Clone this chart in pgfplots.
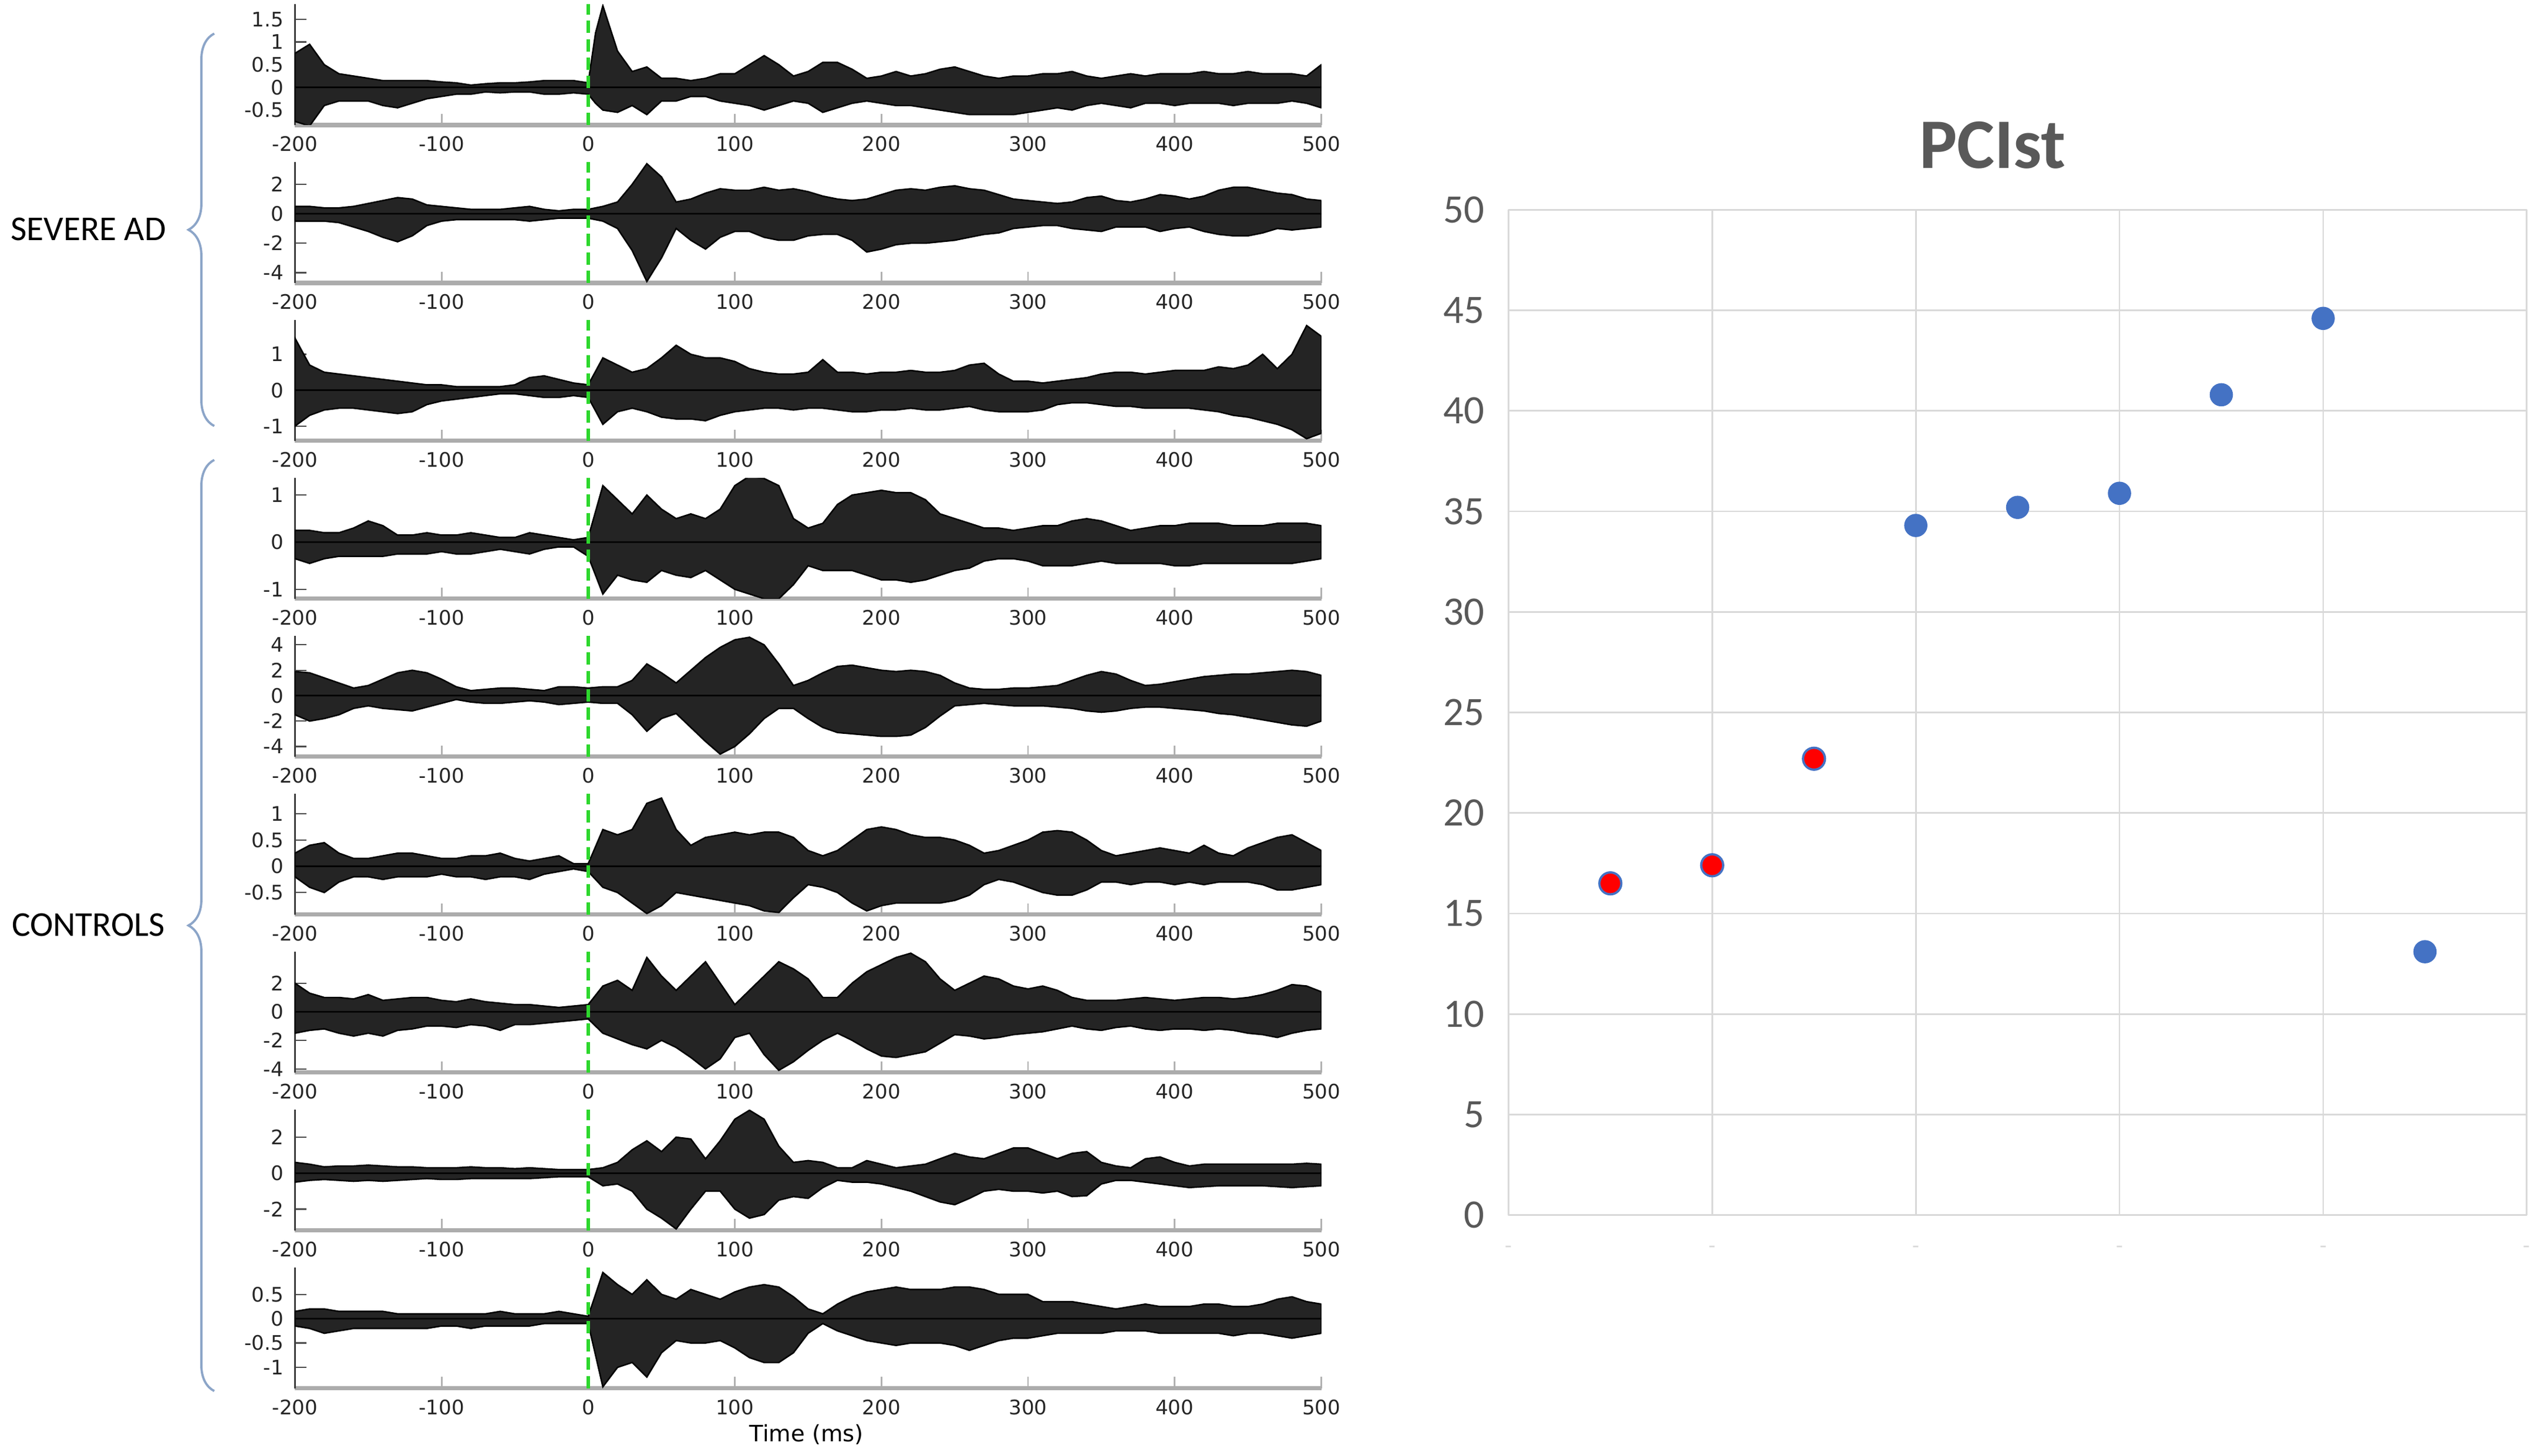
\documentclass[border=0pt]{standalone}
\usepackage{fontspec}
\setmainfont{Carlito}
\newfontfamily\djv{DejaVu Sans}
\usepackage{pgfplots}
\pgfplotsset{compat=1.18}
\usepackage{pgfplotstable}
\usetikzlibrary{decorations.pathreplacing}

\definecolor{eegreen}{RGB}{45,215,45}
\definecolor{msblue}{RGB}{68,114,196}
\definecolor{txtgray}{RGB}{89,89,89}
\definecolor{gridgray}{RGB}{217,217,217}
\definecolor{bracecol}{RGB}{140,165,200}

\pgfplotstableread[row sep=\\]{t u l\\
-200 0.75 -0.75\\ -190 0.95 -0.85\\ -180 0.5 -0.4\\ -170 0.3 -0.3\\ -160 0.25 -0.3\\ -150 0.2 -0.3\\
-140 0.15 -0.4\\ -130 0.15 -0.45\\ -120 0.15 -0.35\\ -110 0.15 -0.25\\ -100 0.12 -0.2\\ -90 0.1 -0.15\\
-80 0.05 -0.15\\ -70 0.08 -0.1\\ -60 0.1 -0.12\\ -50 0.1 -0.1\\ -40 0.12 -0.1\\ -30 0.15 -0.15\\
-20 0.15 -0.15\\ -10 0.15 -0.12\\ 0 0.1 -0.15\\ 5 1.2 -0.35\\ 10 1.8 -0.5\\ 20 0.8 -0.55\\
30 0.35 -0.4\\ 40 0.45 -0.6\\ 50 0.2 -0.3\\ 60 0.2 -0.3\\ 70 0.15 -0.2\\ 80 0.2 -0.2\\
90 0.3 -0.3\\ 100 0.3 -0.35\\ 110 0.5 -0.4\\ 120 0.7 -0.5\\ 130 0.5 -0.4\\ 140 0.25 -0.3\\
150 0.35 -0.35\\ 160 0.55 -0.55\\ 170 0.55 -0.45\\ 180 0.4 -0.35\\ 190 0.2 -0.3\\ 200 0.25 -0.35\\
210 0.35 -0.4\\ 220 0.25 -0.4\\ 230 0.3 -0.45\\ 240 0.4 -0.5\\ 250 0.45 -0.55\\ 260 0.35 -0.6\\
270 0.25 -0.6\\ 280 0.2 -0.6\\ 290 0.25 -0.6\\ 300 0.25 -0.55\\ 310 0.3 -0.5\\ 320 0.3 -0.45\\
330 0.35 -0.5\\ 340 0.25 -0.4\\ 350 0.2 -0.35\\ 360 0.25 -0.4\\ 370 0.3 -0.45\\ 380 0.25 -0.35\\
390 0.3 -0.35\\ 400 0.3 -0.4\\ 410 0.3 -0.35\\ 420 0.35 -0.35\\ 430 0.3 -0.35\\ 440 0.3 -0.4\\
450 0.35 -0.35\\ 460 0.3 -0.35\\ 470 0.3 -0.35\\ 480 0.3 -0.3\\ 490 0.25 -0.35\\ 500 0.5 -0.45\\
}\tA

\pgfplotstableread[row sep=\\]{t u l\\
-200 0.5 -0.5\\ -190 0.5 -0.5\\ -180 0.4 -0.5\\ -170 0.4 -0.6\\ -160 0.5 -0.9\\ -150 0.7 -1.2\\
-140 0.9 -1.6\\ -130 1.1 -1.9\\ -120 1.0 -1.5\\ -110 0.6 -0.8\\ -100 0.5 -0.5\\ -90 0.4 -0.4\\
-80 0.3 -0.4\\ -70 0.3 -0.4\\ -60 0.3 -0.4\\ -50 0.4 -0.4\\ -40 0.5 -0.5\\ -30 0.3 -0.4\\
-20 0.2 -0.3\\ -10 0.3 -0.3\\ 0 0.3 -0.3\\ 10 0.5 -0.5\\ 20 0.8 -1.0\\ 30 2.0 -2.5\\
40 3.4 -4.6\\ 50 2.5 -3.0\\ 60 0.8 -1.0\\ 70 1.0 -1.8\\ 80 1.4 -2.4\\ 90 1.7 -1.6\\
100 1.6 -1.2\\ 110 1.6 -1.2\\ 120 1.8 -1.6\\ 130 1.6 -1.8\\ 140 1.7 -1.8\\ 150 1.5 -1.5\\
160 1.2 -1.4\\ 170 1.0 -1.4\\ 180 0.9 -1.8\\ 190 1.0 -2.6\\ 200 1.3 -2.4\\ 210 1.6 -2.1\\
220 1.7 -2.0\\ 230 1.6 -2.0\\ 240 1.8 -1.9\\ 250 1.9 -1.8\\ 260 1.7 -1.6\\ 270 1.6 -1.4\\
280 1.3 -1.3\\ 290 1.0 -1.0\\ 300 0.9 -0.9\\ 310 0.8 -0.8\\ 320 0.7 -0.8\\ 330 0.8 -1.0\\
340 1.1 -1.1\\ 350 1.2 -1.2\\ 360 0.9 -0.9\\ 370 0.8 -0.9\\ 380 1.0 -0.9\\ 390 1.3 -1.2\\
400 1.2 -1.0\\ 410 1.0 -0.9\\ 420 1.2 -1.2\\ 430 1.6 -1.4\\ 440 1.8 -1.5\\ 450 1.8 -1.5\\
460 1.6 -1.3\\ 470 1.4 -1.0\\ 480 1.3 -1.1\\ 490 1.0 -1.0\\ 500 0.9 -0.9\\
}\tB

\pgfplotstableread[row sep=\\]{t u l\\
-200 1.45 -1.0\\ -190 0.7 -0.7\\ -180 0.5 -0.55\\ -170 0.45 -0.5\\ -160 0.4 -0.5\\ -150 0.35 -0.55\\
-140 0.3 -0.6\\ -130 0.25 -0.65\\ -120 0.2 -0.6\\ -110 0.15 -0.4\\ -100 0.15 -0.3\\ -90 0.1 -0.25\\
-80 0.1 -0.2\\ -70 0.1 -0.15\\ -60 0.1 -0.1\\ -50 0.15 -0.1\\ -40 0.35 -0.15\\ -30 0.4 -0.2\\
-20 0.3 -0.2\\ -10 0.2 -0.15\\ 0 0.15 -0.2\\ 10 0.9 -0.95\\ 20 0.7 -0.6\\ 30 0.5 -0.5\\
40 0.6 -0.6\\ 50 0.9 -0.75\\ 60 1.25 -0.8\\ 70 1.0 -0.8\\ 80 0.9 -0.85\\ 90 0.9 -0.7\\
100 0.8 -0.6\\ 110 0.6 -0.55\\ 120 0.5 -0.5\\ 130 0.45 -0.5\\ 140 0.45 -0.55\\ 150 0.5 -0.5\\
160 0.85 -0.5\\ 170 0.5 -0.55\\ 180 0.5 -0.6\\ 190 0.45 -0.6\\ 200 0.5 -0.55\\ 210 0.5 -0.55\\
220 0.55 -0.5\\ 230 0.5 -0.55\\ 240 0.5 -0.55\\ 250 0.55 -0.5\\ 260 0.7 -0.45\\ 270 0.75 -0.55\\
280 0.45 -0.6\\ 290 0.25 -0.6\\ 300 0.25 -0.6\\ 310 0.2 -0.55\\ 320 0.25 -0.4\\ 330 0.3 -0.35\\
340 0.35 -0.35\\ 350 0.45 -0.4\\ 360 0.5 -0.45\\ 370 0.5 -0.45\\ 380 0.45 -0.5\\ 390 0.5 -0.5\\
400 0.55 -0.5\\ 410 0.55 -0.5\\ 420 0.55 -0.55\\ 430 0.65 -0.6\\ 440 0.6 -0.7\\ 450 0.7 -0.75\\
460 1.0 -0.85\\ 470 0.6 -0.95\\ 480 1.0 -1.1\\ 490 1.8 -1.35\\ 500 1.5 -1.2\\
}\tC

\pgfplotstableread[row sep=\\]{t u l\\
-200 0.25 -0.35\\ -190 0.25 -0.45\\ -180 0.2 -0.35\\ -170 0.2 -0.3\\ -160 0.3 -0.3\\ -150 0.45 -0.3\\
-140 0.35 -0.3\\ -130 0.15 -0.25\\ -120 0.15 -0.25\\ -110 0.2 -0.25\\ -100 0.15 -0.2\\ -90 0.15 -0.25\\
-80 0.2 -0.25\\ -70 0.15 -0.2\\ -60 0.1 -0.15\\ -50 0.1 -0.2\\ -40 0.2 -0.25\\ -30 0.15 -0.15\\
-20 0.1 -0.1\\ -10 0.05 -0.1\\ 0 0.1 -0.3\\ 10 1.2 -1.1\\ 20 0.9 -0.7\\ 30 0.6 -0.8\\
40 1.0 -0.85\\ 50 0.7 -0.6\\ 60 0.5 -0.7\\ 70 0.6 -0.75\\ 80 0.5 -0.6\\ 90 0.7 -0.8\\
100 1.2 -1.0\\ 110 1.4 -1.1\\ 120 1.35 -1.2\\ 130 1.2 -1.2\\ 140 0.5 -0.9\\ 150 0.3 -0.5\\
160 0.4 -0.6\\ 170 0.8 -0.6\\ 180 1.0 -0.6\\ 190 1.05 -0.7\\ 200 1.1 -0.8\\ 210 1.05 -0.8\\
220 1.05 -0.85\\ 230 0.9 -0.8\\ 240 0.6 -0.7\\ 250 0.5 -0.6\\ 260 0.4 -0.55\\ 270 0.3 -0.4\\
280 0.3 -0.35\\ 290 0.25 -0.35\\ 300 0.3 -0.4\\ 310 0.35 -0.5\\ 320 0.35 -0.5\\ 330 0.45 -0.5\\
340 0.5 -0.45\\ 350 0.45 -0.4\\ 360 0.35 -0.45\\ 370 0.25 -0.45\\ 380 0.3 -0.45\\ 390 0.35 -0.45\\
400 0.35 -0.5\\ 410 0.4 -0.5\\ 420 0.4 -0.45\\ 430 0.4 -0.45\\ 440 0.35 -0.45\\ 450 0.35 -0.45\\
460 0.35 -0.45\\ 470 0.4 -0.45\\ 480 0.4 -0.45\\ 490 0.4 -0.4\\ 500 0.35 -0.35\\
}\tD

\pgfplotstableread[row sep=\\]{t u l\\
-200 1.9 -1.5\\ -190 1.8 -2.0\\ -180 1.4 -1.8\\ -170 1.0 -1.5\\ -160 0.6 -1.0\\ -150 0.8 -0.8\\
-140 1.3 -1.0\\ -130 1.8 -1.1\\ -120 2.0 -1.2\\ -110 1.8 -0.9\\ -100 1.3 -0.6\\ -90 0.7 -0.3\\
-80 0.4 -0.5\\ -70 0.5 -0.6\\ -60 0.6 -0.6\\ -50 0.6 -0.5\\ -40 0.5 -0.4\\ -30 0.4 -0.5\\
-20 0.7 -0.7\\ -10 0.7 -0.6\\ 0 0.6 -0.5\\ 10 0.7 -0.6\\ 20 0.7 -0.6\\ 30 1.2 -1.5\\
40 2.5 -2.8\\ 50 1.8 -1.8\\ 60 1.0 -1.4\\ 70 2.0 -2.5\\ 80 3.0 -3.6\\ 90 3.8 -4.6\\
100 4.4 -4.0\\ 110 4.6 -3.0\\ 120 4.0 -1.8\\ 130 2.5 -1.0\\ 140 0.8 -1.0\\ 150 1.2 -1.8\\
160 1.8 -2.5\\ 170 2.3 -2.9\\ 180 2.4 -3.0\\ 190 2.2 -3.1\\ 200 2.0 -3.2\\ 210 1.9 -3.2\\
220 2.0 -3.1\\ 230 1.9 -2.5\\ 240 1.6 -1.6\\ 250 1.0 -0.8\\ 260 0.6 -0.7\\ 270 0.5 -0.6\\
280 0.5 -0.7\\ 290 0.6 -0.8\\ 300 0.6 -0.8\\ 310 0.7 -0.8\\ 320 0.8 -0.9\\ 330 1.2 -1.0\\
340 1.6 -1.2\\ 350 1.9 -1.3\\ 360 1.7 -1.2\\ 370 1.2 -1.0\\ 380 0.8 -0.9\\ 390 0.9 -0.9\\
400 1.1 -1.0\\ 410 1.3 -1.1\\ 420 1.5 -1.2\\ 430 1.6 -1.4\\ 440 1.7 -1.5\\ 450 1.7 -1.7\\
460 1.8 -1.9\\ 470 1.9 -2.1\\ 480 2.0 -2.3\\ 490 1.9 -2.4\\ 500 1.6 -2.0\\
}\tE

\pgfplotstableread[row sep=\\]{t u l\\
-200 0.25 -0.2\\ -190 0.4 -0.4\\ -180 0.45 -0.5\\ -170 0.25 -0.3\\ -160 0.15 -0.2\\ -150 0.15 -0.2\\
-140 0.2 -0.25\\ -130 0.25 -0.2\\ -120 0.25 -0.2\\ -110 0.2 -0.2\\ -100 0.15 -0.15\\ -90 0.15 -0.2\\
-80 0.2 -0.2\\ -70 0.2 -0.25\\ -60 0.25 -0.2\\ -50 0.15 -0.2\\ -40 0.1 -0.25\\ -30 0.15 -0.15\\
-20 0.2 -0.1\\ -10 0.05 -0.05\\ 0 0.05 -0.1\\ 10 0.7 -0.4\\ 20 0.6 -0.5\\ 30 0.7 -0.7\\
40 1.2 -0.9\\ 50 1.3 -0.75\\ 60 0.7 -0.5\\ 70 0.4 -0.55\\ 80 0.55 -0.6\\ 90 0.6 -0.65\\
100 0.65 -0.7\\ 110 0.6 -0.75\\ 120 0.65 -0.85\\ 130 0.65 -0.88\\ 140 0.55 -0.6\\ 150 0.3 -0.35\\
160 0.2 -0.4\\ 170 0.3 -0.5\\ 180 0.5 -0.7\\ 190 0.7 -0.85\\ 200 0.75 -0.75\\ 210 0.7 -0.7\\
220 0.6 -0.7\\ 230 0.55 -0.7\\ 240 0.55 -0.7\\ 250 0.5 -0.65\\ 260 0.4 -0.55\\ 270 0.25 -0.35\\
280 0.3 -0.25\\ 290 0.4 -0.3\\ 300 0.5 -0.4\\ 310 0.65 -0.5\\ 320 0.68 -0.55\\ 330 0.65 -0.55\\
340 0.5 -0.45\\ 350 0.3 -0.3\\ 360 0.2 -0.3\\ 370 0.25 -0.35\\ 380 0.3 -0.3\\ 390 0.35 -0.3\\
400 0.3 -0.35\\ 410 0.25 -0.3\\ 420 0.4 -0.35\\ 430 0.25 -0.3\\ 440 0.2 -0.3\\ 450 0.35 -0.3\\
460 0.45 -0.35\\ 470 0.55 -0.45\\ 480 0.6 -0.45\\ 490 0.45 -0.4\\ 500 0.3 -0.35\\
}\tF

\pgfplotstableread[row sep=\\]{t u l\\
-200 2.0 -1.5\\ -190 1.3 -1.3\\ -180 1.0 -1.2\\ -170 1.0 -1.5\\ -160 0.9 -1.7\\ -150 1.2 -1.5\\
-140 0.8 -1.7\\ -130 0.9 -1.3\\ -120 1.0 -1.2\\ -110 1.0 -1.0\\ -100 0.8 -1.0\\ -90 0.7 -1.1\\
-80 0.9 -0.9\\ -70 0.7 -1.0\\ -60 0.6 -1.3\\ -50 0.5 -0.9\\ -40 0.5 -0.9\\ -30 0.4 -0.8\\
-20 0.3 -0.7\\ -10 0.4 -0.6\\ 0 0.5 -0.5\\ 10 1.8 -1.5\\ 20 2.2 -1.9\\ 30 1.5 -2.3\\
40 3.8 -2.6\\ 50 2.5 -2.0\\ 60 1.5 -2.5\\ 70 2.5 -3.2\\ 80 3.5 -4.0\\ 90 2.0 -3.3\\
100 0.5 -1.8\\ 110 1.5 -1.5\\ 120 2.5 -3.0\\ 130 3.5 -4.1\\ 140 3.0 -3.5\\ 150 2.3 -2.7\\
160 1.0 -2.0\\ 170 1.0 -1.5\\ 180 2.0 -2.0\\ 190 2.8 -2.6\\ 200 3.3 -3.1\\ 210 3.8 -3.2\\
220 4.1 -3.0\\ 230 3.5 -2.8\\ 240 2.3 -2.2\\ 250 1.5 -1.6\\ 260 2.0 -1.7\\ 270 2.5 -1.9\\
280 2.3 -1.8\\ 290 1.8 -1.6\\ 300 1.6 -1.5\\ 310 1.8 -1.4\\ 320 1.5 -1.2\\ 330 1.0 -1.0\\
340 0.8 -1.2\\ 350 0.8 -1.3\\ 360 0.8 -1.1\\ 370 0.9 -1.0\\ 380 1.0 -1.2\\ 390 0.9 -1.3\\
400 0.8 -1.2\\ 410 0.9 -1.2\\ 420 1.0 -1.3\\ 430 1.0 -1.2\\ 440 0.9 -1.3\\ 450 1.0 -1.5\\
460 1.2 -1.6\\ 470 1.5 -1.8\\ 480 1.9 -1.5\\ 490 1.8 -1.3\\ 500 1.4 -1.2\\
}\tG

\pgfplotstableread[row sep=\\]{t u l\\
-200 0.6 -0.5\\ -190 0.5 -0.4\\ -180 0.35 -0.35\\ -170 0.4 -0.4\\ -160 0.4 -0.45\\ -150 0.45 -0.4\\
-140 0.4 -0.45\\ -130 0.35 -0.4\\ -120 0.35 -0.35\\ -110 0.3 -0.3\\ -100 0.3 -0.35\\ -90 0.3 -0.35\\
-80 0.35 -0.3\\ -70 0.3 -0.3\\ -60 0.3 -0.3\\ -50 0.25 -0.3\\ -40 0.3 -0.3\\ -30 0.25 -0.25\\
-20 0.2 -0.2\\ -10 0.2 -0.2\\ 0 0.2 -0.2\\ 10 0.3 -0.7\\ 20 0.6 -0.6\\ 30 1.3 -1.0\\
40 1.8 -2.0\\ 50 1.2 -2.5\\ 60 2.0 -3.1\\ 70 1.9 -2.0\\ 80 0.8 -1.0\\ 90 1.8 -1.0\\
100 3.0 -2.0\\ 110 3.5 -2.5\\ 120 3.0 -2.3\\ 130 1.5 -1.5\\ 140 0.6 -1.3\\ 150 0.7 -1.4\\
160 0.6 -0.8\\ 170 0.3 -0.4\\ 180 0.3 -0.5\\ 190 0.7 -0.5\\ 200 0.5 -0.6\\ 210 0.3 -0.8\\
220 0.4 -1.0\\ 230 0.5 -1.3\\ 240 0.8 -1.6\\ 250 1.1 -1.75\\ 260 0.9 -1.4\\ 270 0.8 -1.0\\
280 1.1 -0.9\\ 290 1.4 -1.0\\ 300 1.4 -1.0\\ 310 1.1 -1.1\\ 320 0.8 -1.0\\ 330 1.1 -1.3\\
340 1.2 -1.25\\ 350 0.6 -0.6\\ 360 0.4 -0.4\\ 370 0.3 -0.4\\ 380 0.8 -0.5\\ 390 0.9 -0.6\\
400 0.6 -0.7\\ 410 0.4 -0.8\\ 420 0.5 -0.75\\ 430 0.5 -0.7\\ 440 0.5 -0.7\\ 450 0.5 -0.7\\
460 0.5 -0.7\\ 470 0.5 -0.75\\ 480 0.5 -0.8\\ 490 0.55 -0.75\\ 500 0.5 -0.7\\
}\tH

\pgfplotstableread[row sep=\\]{t u l\\
-200 0.15 -0.15\\ -190 0.2 -0.2\\ -180 0.2 -0.3\\ -170 0.15 -0.25\\ -160 0.15 -0.2\\ -150 0.15 -0.2\\
-140 0.15 -0.2\\ -130 0.1 -0.2\\ -120 0.1 -0.2\\ -110 0.1 -0.2\\ -100 0.1 -0.15\\ -90 0.1 -0.15\\
-80 0.1 -0.2\\ -70 0.1 -0.15\\ -60 0.15 -0.15\\ -50 0.1 -0.15\\ -40 0.1 -0.15\\ -30 0.1 -0.1\\
-20 0.15 -0.1\\ -10 0.1 -0.1\\ 0 0.05 -0.1\\ 10 0.95 -1.4\\ 20 0.7 -1.0\\ 30 0.5 -0.9\\
40 0.8 -1.2\\ 50 0.5 -0.7\\ 60 0.4 -0.45\\ 70 0.6 -0.5\\ 80 0.5 -0.5\\ 90 0.4 -0.45\\
100 0.55 -0.6\\ 110 0.65 -0.8\\ 120 0.7 -0.9\\ 130 0.65 -0.9\\ 140 0.45 -0.7\\ 150 0.2 -0.3\\
160 0.1 -0.1\\ 170 0.3 -0.25\\ 180 0.45 -0.35\\ 190 0.55 -0.45\\ 200 0.6 -0.5\\ 210 0.65 -0.55\\
220 0.6 -0.5\\ 230 0.6 -0.5\\ 240 0.6 -0.5\\ 250 0.65 -0.55\\ 260 0.65 -0.65\\ 270 0.6 -0.55\\
280 0.5 -0.45\\ 290 0.5 -0.4\\ 300 0.5 -0.4\\ 310 0.35 -0.35\\ 320 0.35 -0.3\\ 330 0.35 -0.3\\
340 0.3 -0.3\\ 350 0.25 -0.3\\ 360 0.2 -0.25\\ 370 0.25 -0.25\\ 380 0.3 -0.25\\ 390 0.25 -0.3\\
400 0.25 -0.3\\ 410 0.25 -0.3\\ 420 0.3 -0.3\\ 430 0.3 -0.3\\ 440 0.25 -0.35\\ 450 0.25 -0.3\\
460 0.3 -0.3\\ 470 0.4 -0.35\\ 480 0.45 -0.4\\ 490 0.35 -0.35\\ 500 0.3 -0.3\\
}\tI

\pgfplotsset{panel/.style={
  scale only axis, width=318pt, height=37.4pt, anchor=south west,
  xmin=-200, xmax=500, xtick={-200,-100,...,500},
  axis lines=left, axis line style={-},
  x axis line style={gray!65, line width=1.3pt},
  y axis line style={black!75, line width=0.45pt},
  tick align=inside,
  major tick length=3.5pt,
  xtick style={gray!60, line width=0.5pt},
  ytick style={black!70, line width=0.4pt},
  ticklabel style={font=\djv\fontsize{6.2}{7}\selectfont, text=black!85},
  /pgf/number format/assume math mode=true,
}}

\newcommand\panel[5]{%
\begin{axis}[panel, at={(90pt,#1)}, ymin=#3, ymax=#4, ytick={#5}]
\addplot[fill=black!86, draw=black, line width=0.45pt] table[x=t,y=u]{#2} \closedcycle;
\addplot[fill=black!86, draw=black, line width=0.45pt] table[x=t,y=l]{#2} \closedcycle;
\draw[eegreen, line width=1.1pt, dash pattern=on 3.8pt off 1.9pt] (axis cs:0,#3) -- (axis cs:0,#4);
\end{axis}}

\begin{document}
\begin{tikzpicture}
\path (0,0) rectangle (784pt,450pt);

\panel{411.25pt}{\tA}{-0.83}{1.83}{-0.5,0,0.5,1,1.5}
\panel{362.325pt}{\tB}{-4.7}{3.5}{-4,-2,0,2}
\panel{313.4pt}{\tC}{-1.41}{1.95}{-1,0,1}
\panel{264.475pt}{\tD}{-1.2}{1.36}{-1,0,1}
\panel{215.55pt}{\tE}{-4.8}{4.7}{-4,-2,0,2,4}
\panel{166.625pt}{\tF}{-0.92}{1.38}{-0.5,0,0.5,1}
\panel{117.7pt}{\tG}{-4.25}{4.2}{-4,-2,0,2}
\panel{68.775pt}{\tH}{-3.18}{3.53}{-2,0,2}
\panel{19.85pt}{\tI}{-1.43}{1.05}{-1,-0.5,0,0.5}

\node[font=\djv\fontsize{7}{8}\selectfont] at (248.5pt,5.5pt) {Time (ms)};

\draw[bracecol, line width=0.7pt, decorate, decoration={brace, amplitude=8pt}] (65pt,318pt) -- (65pt,439.6pt);
\draw[bracecol, line width=0.7pt, decorate, decoration={brace, amplitude=8pt}] (65pt,19pt) -- (65pt,307.5pt);
\node[font=\fontsize{10.8}{12}\selectfont] at (26pt,379pt) {SEVERE AD};
\node[font=\fontsize{10.8}{12}\selectfont] at (26pt,163.5pt) {CONTROLS};

\begin{axis}[at={(466pt,73.5pt)}, anchor=south west, scale only axis,
  width=315.5pt, height=311.5pt,
  xmin=0, xmax=10, ymin=0, ymax=50,
  xtick={0,2,...,10}, ytick={0,5,...,50},
  grid=major, grid style={gridgray, line width=0.5pt},
  axis line style={draw=none}, major tick length=0pt,
  yticklabel style={font=\fontsize{12.5}{14}\selectfont, text=txtgray, xshift=-4pt},
  xticklabels={-,-,-,-,-,-},
  xticklabel style={font=\fontsize{7}{8}\selectfont, text=black!15, yshift=-6pt},
  /pgf/number format/assume math mode=true,
  clip=false]
\addplot[only marks, mark=*, mark size=3.4pt, mark options={fill=red, draw=msblue, line width=0.7pt}] coordinates {(1,16.5) (2,17.4) (3,22.7)};
\addplot[only marks, mark=*, mark size=3.4pt, mark options={fill=msblue, draw=msblue}] coordinates {(4,34.3) (5,35.2) (6,35.9) (7,40.8) (8,44.6) (9,13.1)};
\end{axis}
\node[font=\bfseries\fontsize{22}{25}\selectfont, text=txtgray] at (616pt,405pt) {PCIst};
\end{tikzpicture}
\end{document}
